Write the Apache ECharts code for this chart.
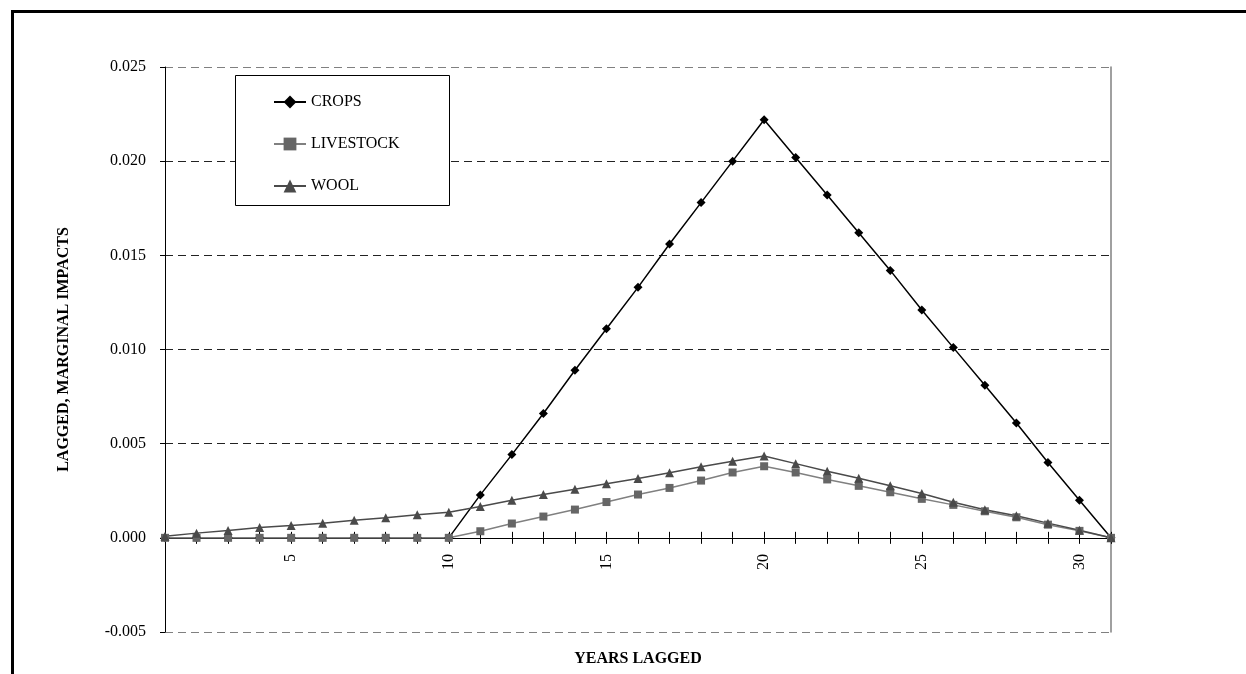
<!DOCTYPE html>
<html>
<head>
<meta charset="utf-8">
<script src="https://cdn.jsdelivr.net/npm/echarts@6/dist/echarts.min.js"></script>
<style>
  html, body { margin: 0; padding: 0; background: #fff; }
  #chart { width: 1246px; height: 674px; }
</style>
</head>
<body>
<div id="chart"></div>
<script>
// years lagged 1..31
const years = ['1','2','3','4','5','6','7','8','9','10','11','12','13','14','15','16',
  '17','18','19','20','21','22','23','24','25','26','27','28','29','30','31'];

const crops = [0, 0, 0, 0, 0, 0, 0, 0, 0, 0,
  0.00228, 0.00442, 0.0066, 0.0089, 0.0111, 0.0133, 0.0156, 0.0178, 0.0200, 0.0222,
  0.0202, 0.0182, 0.0162, 0.0142, 0.0121, 0.0101, 0.0081, 0.0061, 0.0040, 0.0020, 0];

const livestock = [0, 0, 0, 0, 0, 0, 0, 0, 0, 0,
  0.00035, 0.00076, 0.00113, 0.0015, 0.0019, 0.0023, 0.00265, 0.00304, 0.00347, 0.0038,
  0.00347, 0.0031, 0.00276, 0.00242, 0.00207, 0.00175, 0.00141, 0.00109, 0.0007, 0.00037, 0];

const wool = [0.00009, 0.00025, 0.00039, 0.00055, 0.00066, 0.00078, 0.00094, 0.00106, 0.00122, 0.00136,
  0.00166, 0.002, 0.0023, 0.00258, 0.00287, 0.00315, 0.00345, 0.00377, 0.00407, 0.00435,
  0.00394, 0.00354, 0.00316, 0.00276, 0.00235, 0.00189, 0.00149, 0.00117, 0.00078, 0.0004, 0];

const yTicks = [-0.005, 0.000, 0.005, 0.010, 0.015, 0.020, 0.025];

const serif = '"Liberation Serif", "Times New Roman", serif';

const chart = echarts.init(document.getElementById('chart'));

// x axis sits on zero, but echarts keeps its labels at the grid bottom,
// so pull them back up with a negative margin
const zeroToBottom = 95;

const option = {
  animation: false,
  backgroundColor: '#fff',
  textStyle: { fontFamily: serif, color: '#000' },
  grid: { left: 165, right: 135, top: 67, bottom: 42, containLabel: false, outerBoundsMode: 'none' },
  graphic: [
    {
      type: 'rect', left: 10, top: 9, z: 0,
      shape: { width: 1300, height: 700 },
      style: { fill: 'none', stroke: '#000', lineWidth: 3 }
    },
    {
      type: 'rect', left: 235, top: 75, z: 3,
      shape: { width: 214, height: 130 },
      style: { fill: '#fff', stroke: '#000', lineWidth: 1 }
    }
  ],
  legend: {
    orient: 'vertical',
    left: 268, top: 89, z: 10,
    itemWidth: 32, itemHeight: 16, itemGap: 26,
    textStyle: { fontFamily: serif, fontSize: 16, color: '#000' },
    data: ['CROPS', 'LIVESTOCK', 'WOOL']
  },
  xAxis: [
    {
      type: 'category',
      data: years,
      boundaryGap: false,
      name: 'YEARS LAGGED',
      nameLocation: 'middle',
      nameGap: 19,
      nameTextStyle: { fontFamily: serif, fontSize: 16, fontWeight: 'bold', color: '#000' },
      axisLine: { onZero: true, onZeroAxisIndex: 0, lineStyle: { color: '#000', width: 1 } },
      axisTick: { show: true, interval: 0, length: 6, lineStyle: { color: '#000' } },
      axisLabel: {
        rotate: 90, margin: 17 - zeroToBottom, fontSize: 16, color: '#000', fontFamily: serif,
        interval: (idx) => (idx + 1) % 5 === 0
      },
      splitLine: { show: false }
    },
    {
      type: 'category',
      data: years,
      boundaryGap: false,
      position: 'bottom',
      axisLine: { onZero: true, onZeroAxisIndex: 1, lineStyle: { color: '#000', width: 1 } },
      axisTick: { show: true, inside: true, interval: 0, length: 6, lineStyle: { color: '#000' } },
      axisLabel: { show: false },
      splitLine: { show: false }
    }
  ],
  yAxis: [
    {
      type: 'value',
      min: -0.005, max: 0.025, interval: 0.005,
      name: 'LAGGED, MARGINAL IMPACTS',
      nameLocation: 'middle',
      nameGap: 93,
      nameTextStyle: { fontFamily: serif, fontSize: 16, fontWeight: 'bold', color: '#000' },
      axisLine: { show: true, onZero: false, lineStyle: { color: '#000', width: 1 } },
      axisTick: { show: true, length: 5, lineStyle: { color: '#000' } },
      axisLabel: {
        margin: 19, fontSize: 16, color: '#000', fontFamily: serif,
        formatter: (v) => {
          const t = yTicks.find((k) => Math.abs(k - v) < 1e-9);
          return (t !== undefined ? t : v).toFixed(3);
        }
      },
      splitLine: {
        show: true,
        lineStyle: {
          type: [8, 5], width: 1,
          color: ['#808080', '#000', '#222', '#222', '#222', '#222', '#808080']
        }
      }
    },
    {
      type: 'value',
      min: -0.005, max: 0.025, interval: 0.005,
      position: 'right',
      axisLine: { show: true, onZero: false, lineStyle: { color: '#808080', width: 1.5 } },
      axisTick: { show: false },
      axisLabel: { show: false },
      splitLine: { show: false }
    }
  ],
  series: [
    {
      name: 'CROPS', type: 'line', data: crops,
      symbol: 'diamond', symbolSize: 9, showAllSymbol: true,
      lineStyle: { color: '#000', width: 1.5 },
      itemStyle: { color: '#000' }
    },
    {
      name: 'LIVESTOCK', type: 'line', data: livestock,
      symbol: 'rect', symbolSize: 8, showAllSymbol: true,
      lineStyle: { color: '#808080', width: 1.5 },
      itemStyle: { color: '#666' }
    },
    {
      name: 'WOOL', type: 'line', data: wool,
      symbol: 'triangle', symbolSize: 9, showAllSymbol: true,
      lineStyle: { color: '#4a4a4a', width: 1.5 },
      itemStyle: { color: '#4a4a4a' }
    }
  ]
};

chart.setOption(option);
</script>
</body>
</html>
